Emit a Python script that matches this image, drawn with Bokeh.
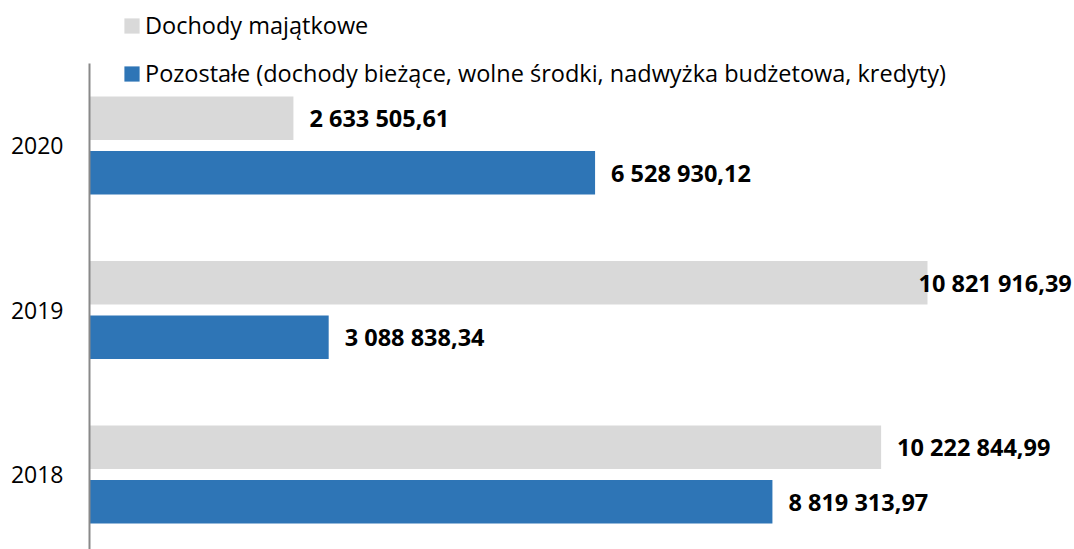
from bokeh.plotting import figure
from bokeh.models import ColumnDataSource, Range1d, FixedTicker, Legend, LegendItem
from bokeh.transform import dodge
from bokeh.core.properties import value
from bokeh.embed import file_html
from bokeh.resources import INLINE
import numpy as np

years = [2020, 2019, 2018]
majatkowe = [2633505.61, 10821916.39, 10222844.99]
pozostale = [6528930.12, 3088838.34, 8819313.97]
series_names = ["Dochody majątkowe",
                "Pozostałe (dochody bieżące, wolne środki, nadwyżka budżetowa, kredyty)"]
colors = ["#D9D9D9", "#2E75B6"]

W, H = 1074, 549
LEFT = 89
frame_w = W - LEFT
k = 838 / max(majatkowe)          # px per unit
x_end = frame_w / k
PITCH = 164.5                      # px per year group
y_top = 2020 + 145 / PITCH
y_bot = 2020 - (H - 145) / PITCH


def fmt(v):
    return f"{v:,.2f}".replace(",", " ").replace(".", ",")


def label_x(vals):
    v = np.array(vals)
    return np.minimum(v + 16 / k, 829 / k)


src = ColumnDataSource(dict(
    year=years,
    maj=majatkowe, poz=pozostale,
    maj_lx=label_x(majatkowe), poz_lx=label_x(pozostale),
    maj_t=[fmt(v) for v in majatkowe], poz_t=[fmt(v) for v in pozostale],
))

p = figure(width=W, height=H, output_backend="svg", toolbar_location=None,
           x_range=Range1d(0, x_end), y_range=Range1d(y_bot, y_top),
           min_border_left=LEFT, min_border_top=0, min_border_bottom=0,
           min_border_right=0)
p.outline_line_color = None
p.grid.visible = False
p.xaxis.visible = False
p.background_fill_color = "#FFFFFF"
p.border_fill_color = "#FFFFFF"

off = 27.25 / PITCH
bh = 43.5 / PITCH
r1 = p.hbar(y=dodge("year", off), right="maj", left=0, height=bh, source=src,
            fill_color=colors[0], line_color=None)
r2 = p.hbar(y=dodge("year", -off), right="poz", left=0, height=bh, source=src,
            fill_color=colors[1], line_color=None)

for lx, t, o in (("maj_lx", "maj_t", off), ("poz_lx", "poz_t", -off)):
    p.text(x=lx, y=dodge("year", o), text=t, source=src,
           text_font=value("Open Sans"), text_font_style="bold",
           text_font_size="23.5px", text_baseline="middle", text_align="left",
           text_color="#000000")

ax = p.yaxis[0]
ax.ticker = FixedTicker(ticks=years)
ax.bounds = (y_bot, 2020 + 82 / PITCH)
ax.axis_line_color = "#898989"
ax.axis_line_width = 2
ax.major_tick_line_color = None
ax.minor_tick_line_color = None
ax.major_label_standoff = 20
ax.major_label_text_font = "Open Sans"
ax.major_label_text_font_size = "23px"
ax.major_label_text_color = "#000000"

legend = Legend(items=[LegendItem(label=series_names[0], renderers=[r1]),
                       LegendItem(label=series_names[1], renderers=[r2])],
                location=(33, 460), orientation="vertical",
                glyph_width=19, glyph_height=19, label_height=15,
                spacing=16, padding=0, margin=0, label_standoff=4,
                border_line_color=None, background_fill_alpha=0,
                label_text_font="Open Sans", label_text_font_size="23.5px",
                label_text_color="#000000")
p.add_layout(legend, "center")

open("out.html", "w").write(file_html(p, INLINE))
